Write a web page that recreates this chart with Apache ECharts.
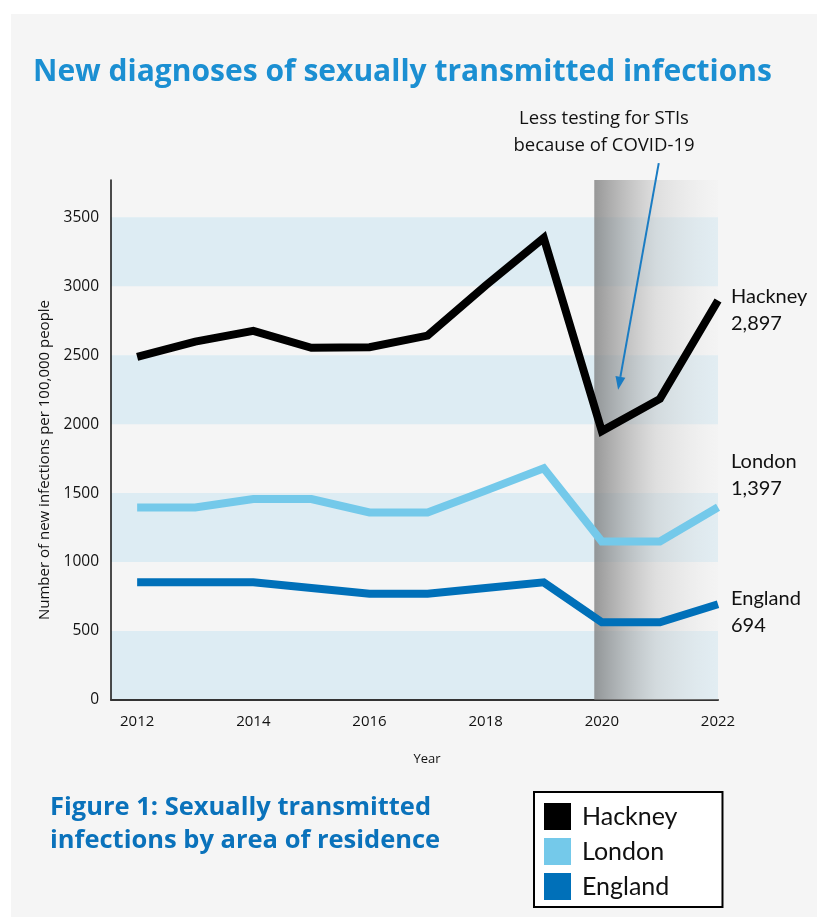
<!DOCTYPE html>
<html>
<head>
<meta charset="utf-8">
<script src="https://cdn.jsdelivr.net/npm/echarts@6/dist/echarts.min.js"></script>
<style>
html,body{margin:0;padding:0;background:#ffffff;}
#chart{position:absolute;left:11px;top:14px;width:806px;height:903px;}
</style>
</head>
<body>
<div id="chart"></div>
<script>
// ---- data ----
const years = [2012, 2013, 2014, 2015, 2016, 2017, 2018, 2019, 2020, 2021, 2022];
const hackney = [2488, 2598, 2676, 2553, 2558, 2642, 3005, 3350, 1950, 2183, 2897];
const london  = [1396, 1396, 1457, 1457, 1360, 1360, 1518, 1680, 1150, 1150, 1397];
const england = [853, 853, 853, 812, 771, 771, 812, 853, 563, 563, 694];
const seriesNames = ['Hackney', 'London', 'England'];
const xTickLabels = [2012, 2014, 2016, 2018, 2020, 2022];
const covidPeriod = [2019.87, 2022];
const arrowFrom = [2020.98, 3892];
const arrowTo = [2020.28, 2250];

const colors = {Hackney: '#000000', London: '#74c9ea', England: '#0070b9'};
const endOffsets = {Hackney: [0, 10], London: [0, -32], England: [0, 8]};
const FONT = 'Lato, "Noto Sans", sans-serif';
const FONT2 = '"Open Sans", "Noto Sans", sans-serif';

function pairs(vals){ return years.map((y,i)=>[y, vals[i]]); }
function fmt(v){ return String(v).replace(/\B(?=(\d{3})+(?!\d))/g, ','); }

const chart = echarts.init(document.getElementById('chart'), null, {renderer: 'canvas'});

function lineSeries(name, vals){
  return {
    name: name,
    type: 'line',
    data: pairs(vals),
    showSymbol: false,
    symbol: 'none',
    z: 5,
    color: colors[name],
    itemStyle: {color: colors[name]},
    lineStyle: {color: colors[name], width: 8, join: 'miter', cap: 'butt'},
    emphasis: {disabled: true},
    endLabel: {
      show: true,
      formatter: p => name + '\n' + fmt(p.value[1]),
      fontFamily: FONT,
      fontSize: 20,
      lineHeight: 27,
      color: '#111',
      distance: 13,
      offset: endOffsets[name]
    }
  };
}

const option = {
  animation: false,
  backgroundColor: '#f5f5f5',
  title: [
    {
      text: 'New diagnoses of sexually transmitted infections',
      left: 17, top: 35,
      textStyle: {fontFamily: FONT2, fontWeight: 'bold', fontSize: 30, lineHeight: 36, color: '#1b8fd2'}
    },
    {
      text: 'Figure 1: Sexually transmitted\ninfections by area of residence',
      left: 34, top: 772,
      textStyle: {fontFamily: FONT2, fontWeight: 'bold', fontSize: 25.5, lineHeight: 33, color: '#0a72bb'}
    }
  ],
  grid: {left: 100, top: 166, width: 607, height: 520, containLabel: false},
  xAxis: {
    type: 'value',
    min: 2011.55,
    max: 2022,
    name: 'Year',
    nameLocation: 'middle',
    nameGap: 53,
    nameTextStyle: {fontFamily: FONT2, fontSize: 13, color: '#111', padding: [0, 0, 0, 25]},
    axisLine: {show: true, lineStyle: {color: '#333', width: 2}},
    axisTick: {show: false},
    splitLine: {show: false},
    axisLabel: {
      customValues: xTickLabels,
      formatter: v => String(v),
      fontFamily: FONT2, fontSize: 15, color: '#111', margin: 14
    }
  },
  yAxis: {
    type: 'value',
    min: 0,
    max: 3770,
    interval: 500,
    name: 'Number of new infections per 100,000 people',
    nameLocation: 'middle',
    nameGap: 58,
    nameRotate: 90,
    nameTextStyle: {fontFamily: FONT2, fontSize: 15, color: '#111', padding: [0, 40, 0, 0]},
    axisLine: {show: true, lineStyle: {color: '#111', width: 1.5}},
    axisTick: {show: false},
    splitLine: {show: false},
    splitArea: {show: true, areaStyle: {color: ['#ddecf3', 'rgba(0,0,0,0)']}},
    axisLabel: {showMaxLabel: false, formatter: v => String(v), fontFamily: FONT2, fontSize: 15.5, color: '#111', margin: 12}
  },
  legend: {
    data: seriesNames,
    orient: 'vertical',
    left: 523, top: 778,
    icon: 'rect',
    itemWidth: 27, itemHeight: 27, itemGap: 8,
    backgroundColor: '#ffffff',
    borderColor: '#000000', borderWidth: 2, borderRadius: 0,
    padding: [11, 45, 7, 10],
    selectedMode: false,
    textStyle: {fontFamily: FONT, fontSize: 25, color: '#111', padding: [0, 0, 0, 6]}
  },
  series: [
    {
      name: 'covid',
      type: 'line',
      data: [],
      z: 1,
      silent: true,
      markArea: {
        silent: true,
        itemStyle: {
          color: {
            type: 'linear', x: 0, y: 0, x2: 1, y2: 0,
            colorStops: [
              {offset: 0, color: 'rgba(120,120,120,0.75)'},
              {offset: 0.5, color: 'rgba(200,200,200,0.5)'},
              {offset: 1, color: 'rgba(240,240,240,0.25)'}
            ]
          }
        },
        data: [[{xAxis: covidPeriod[0]}, {xAxis: covidPeriod[1]}]]
      }
    },
    lineSeries('Hackney', hackney),
    lineSeries('London', london),
    lineSeries('England', england)
  ]
};

chart.setOption(option);

// annotation arrow and text
const p1 = chart.convertToPixel({gridIndex: 0}, arrowFrom);
const p2 = chart.convertToPixel({gridIndex: 0}, arrowTo);
const dx = p2[0]-p1[0], dy = p2[1]-p1[1];
const len = Math.sqrt(dx*dx+dy*dy);
const ux = dx/len, uy = dy/len;
const headL = 13, headW = 5;
const base = [p2[0]-ux*headL, p2[1]-uy*headL];
chart.setOption({
  graphic: [
    {
      type: 'line', z: 10,
      shape: {x1: p1[0], y1: p1[1], x2: base[0], y2: base[1]},
      style: {stroke: '#1a7cc3', lineWidth: 2}
    },
    {
      type: 'polygon', z: 10,
      shape: {points: [p2, [base[0]-uy*headW, base[1]+ux*headW], [base[0]+uy*headW, base[1]-ux*headW]]},
      style: {fill: '#1a7cc3'}
    },
    {
      type: 'text', z: 10,
      x: 593, y: 91,
      style: {
        text: 'Less testing for STIs\nbecause of COVID-19',
        fontFamily: FONT2, fontSize: 18.5, lineHeight: 27,
        fill: '#111', align: 'center', verticalAlign: 'top'
      }
    }
  ]
});
</script>
</body>
</html>
